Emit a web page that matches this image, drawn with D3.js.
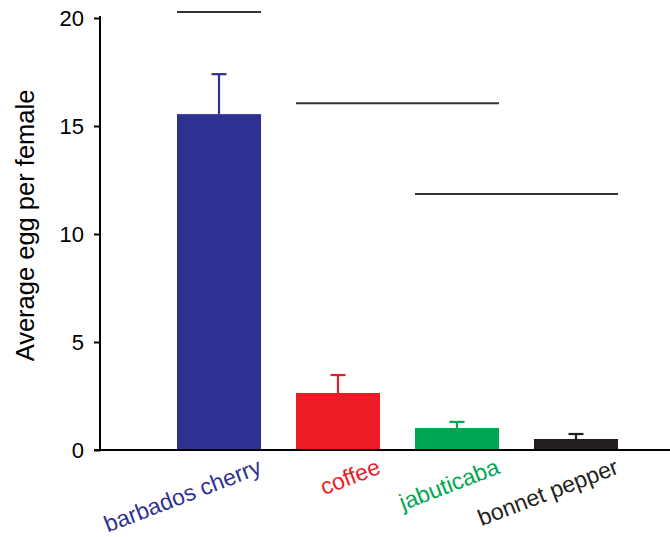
<!DOCTYPE html>
<html>
<head>
<meta charset="utf-8">
<script src="https://cdn.jsdelivr.net/npm/d3@7"></script>
<style>
  html, body { margin: 0; padding: 0; background: #fff; }
  svg { display: block; }
  text { font-family: "Liberation Sans", Arial, Helvetica, sans-serif; }
</style>
</head>
<body>
<svg id="chart" width="670" height="537"></svg>
<script>
// Host plants and mean eggs laid per female
const hosts = ["barbados cherry", "coffee", "jabuticaba", "bonnet pepper"];
const meanEggs = [15.55, 2.64, 1.02, 0.51];
const errUpper = [17.4, 3.47, 1.3, 0.74];
const hostColors = ["#2e3192", "#ed1c24", "#00a651", "#231f20"];
const yTicks = [0, 5, 10, 15, 20];

// Significance groupings: horizontal lines spanning groups of bars
const groupFrom = ["barbados cherry", "coffee", "jabuticaba"];
const groupTo = ["barbados cherry", "jabuticaba", "bonnet pepper"];
const groupLevel = [20.28, 16.05, 11.85];

const svg = d3.select("#chart");

const y = d3.scaleLinear().domain([0, 20]).range([450, 18]);
const x = d3.scaleBand().domain(hosts).range([177, 618])
  .paddingInner(0.294).paddingOuter(0);

// Bars
svg.append("g").selectAll("rect")
  .data(hosts)
  .join("rect")
  .attr("x", d => x(d))
  .attr("y", (d, i) => y(meanEggs[i]))
  .attr("width", x.bandwidth())
  .attr("height", (d, i) => y(0) - y(meanEggs[i]))
  .attr("fill", (d, i) => hostColors[i]);

// Upper error bars
const eb = svg.append("g").selectAll("g")
  .data(hosts)
  .join("g")
  .attr("stroke", (d, i) => hostColors[i])
  .attr("stroke-width", 2.2);
eb.append("line")
  .attr("x1", d => x(d) + x.bandwidth() / 2)
  .attr("x2", d => x(d) + x.bandwidth() / 2)
  .attr("y1", (d, i) => y(meanEggs[i]))
  .attr("y2", (d, i) => y(errUpper[i]));
eb.append("line")
  .attr("x1", d => x(d) + x.bandwidth() / 2 - 7.5)
  .attr("x2", d => x(d) + x.bandwidth() / 2 + 7.5)
  .attr("y1", (d, i) => y(errUpper[i]))
  .attr("y2", (d, i) => y(errUpper[i]));

// Grouping lines
svg.append("g").selectAll("line")
  .data(groupLevel)
  .join("line")
  .attr("x1", (d, i) => x(groupFrom[i]))
  .attr("x2", (d, i) => x(groupTo[i]) + x.bandwidth())
  .attr("y1", d => y(d))
  .attr("y2", d => y(d))
  .attr("stroke", "#333")
  .attr("stroke-width", 2);

// Y axis
const yAxis = svg.append("g")
  .attr("transform", "translate(100,0)")
  .call(d3.axisLeft(y).tickValues(yTicks).tickSize(6).tickPadding(10).tickFormat(d3.format("d")));
yAxis.select(".domain").attr("stroke", "#000").attr("stroke-width", 2)
  .attr("d", `M0,${y(20) - 2}V${y(0)}`);
yAxis.selectAll(".tick line").attr("stroke", "#000").attr("stroke-width", 2);
yAxis.selectAll(".tick text").attr("font-size", 22).attr("fill", "#000")
  .attr("font-family", "Liberation Sans, Arial, sans-serif");

// X axis baseline
svg.append("line")
  .attr("x1", 94).attr("x2", 670)
  .attr("y1", y(0)).attr("y2", y(0))
  .attr("stroke", "#000").attr("stroke-width", 2);

// Category labels, rotated and coloured to match each bar
svg.append("g").selectAll("text")
  .data(hosts)
  .join("text")
  .attr("transform", d => `translate(${x(d) + x.bandwidth() + 2},473) rotate(-21)`)
  .attr("text-anchor", "end")
  .attr("font-size", 23)
  .attr("fill", (d, i) => hostColors[i])
  .text(d => d);

// Y axis title
svg.append("text")
  .attr("transform", "translate(34,225.5) rotate(-90)")
  .attr("text-anchor", "middle")
  .attr("font-size", 25.5)
  .attr("fill", "#000")
  .text("Average egg per female");
</script>
</body>
</html>
